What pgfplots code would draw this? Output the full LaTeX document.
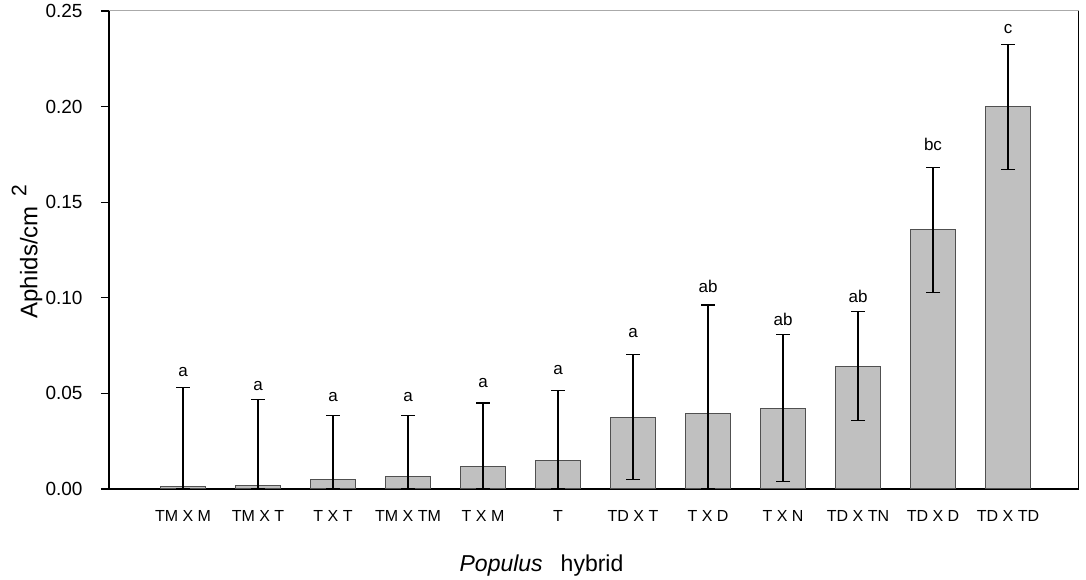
\documentclass[border=0pt]{standalone}
\usepackage{fontspec}
\setmainfont{Liberation Sans}
\usepackage{pgfplots}
\pgfplotsset{compat=1.18}
\usepackage{pgfplotstable}
\definecolor{barfill}{RGB}{192,192,192}
\definecolor{baredge}{RGB}{80,80,80}
\definecolor{topline}{RGB}{170,170,170}

\pgfplotstableread{
x y ep em ly lab
0 0.0014 0.0517 0.0014 0.0587 a
1 0.0019 0.0448 0.0019 0.0514 a
2 0.0052 0.0331 0.0052 0.0457 a
3 0.0066 0.0317 0.0066 0.0457 a
4 0.0118 0.0332 0.0118 0.0527 a
5 0.0150 0.0364 0.0150 0.0596 a
6 0.0375 0.0328 0.0326 0.0793 a
7 0.0394 0.0568 0.0394 0.1024 ab
8 0.0422 0.0384 0.0384 0.0853 ab
9 0.0643 0.0285 0.0286 0.0974 ab
10 0.1355 0.0328 0.0328 0.1769 bc
11 0.1998 0.0328 0.0328 0.2378 c
}\data

\begin{document}
\begin{tikzpicture}
\path[use as bounding box] (-109pt,-91pt) rectangle (977pt,489pt);
\begin{axis}[
  at={(0pt,0pt)}, anchor=south west,
  scale only axis, width=969.5pt, height=478pt,
  xmin=-0.987, xmax=11.94, ymin=0, ymax=0.25,
  axis x line*=bottom, axis y line*=left,
  axis line style={line width=1.2pt, black},
  xtick=data,
  xticklabels={TM X M, TM X T, T X T, TM X TM, T X M, T, TD X T, T X D, T X N, TD X TN, TD X D, TD X TD},
  x tick style={draw=none},
  xticklabel style={font=\fontsize{16}{18}\selectfont, anchor=base, yshift=-24.3pt, inner sep=0pt},
  ytick={0,0.05,0.1,0.15,0.2,0.25},
  ytick pos=left, tick align=outside,
  y tick style={line width=1.2pt, black},
  major tick length=8pt,
  yticklabel style={font=\fontsize{19}{21}\selectfont, anchor=east, inner sep=0pt, xshift=-18.3pt,
    /pgf/number format/.cd, fixed, fixed zerofill, precision=2, assume math mode=true},
  scaled y ticks=false,
  clip=false,
]
\addplot[ybar, bar width=45pt, fill=barfill, draw=baredge, line width=1pt,
  error bars/.cd, y dir=both, y explicit,
  error bar style={line width=1.2pt, black},
  error mark=-,
  error mark options={rotate=90, line width=1.2pt, black, mark size=7pt}]
  table[x=x, y=y, y error plus=ep, y error minus=em] {\data};
\addplot[draw=none, mark=none, nodes near coords, point meta=explicit symbolic,
  every node near coord/.append style={font=\fontsize{17}{19}\selectfont, inner sep=0pt, black}]
  table[x=x, y=ly, meta=lab] {\data};
\draw[topline, line width=1pt] (rel axis cs:0,1) -- (rel axis cs:1,1);
\draw[black, line width=1.2pt] (rel axis cs:1,0) -- (rel axis cs:1,1);
\end{axis}
\node[anchor=base] at (432.5pt,-82.7pt) {\fontsize{23}{26}\selectfont\textit{Populus}\hspace{18pt}hybrid};
\node[rotate=90, anchor=base] at (-71.7pt,237.5pt) {\fontsize{24}{27}\selectfont Aphids/cm\hspace{10pt}\raisebox{11pt}{\fontsize{21}{23}\selectfont 2}};
\end{tikzpicture}
\end{document}
